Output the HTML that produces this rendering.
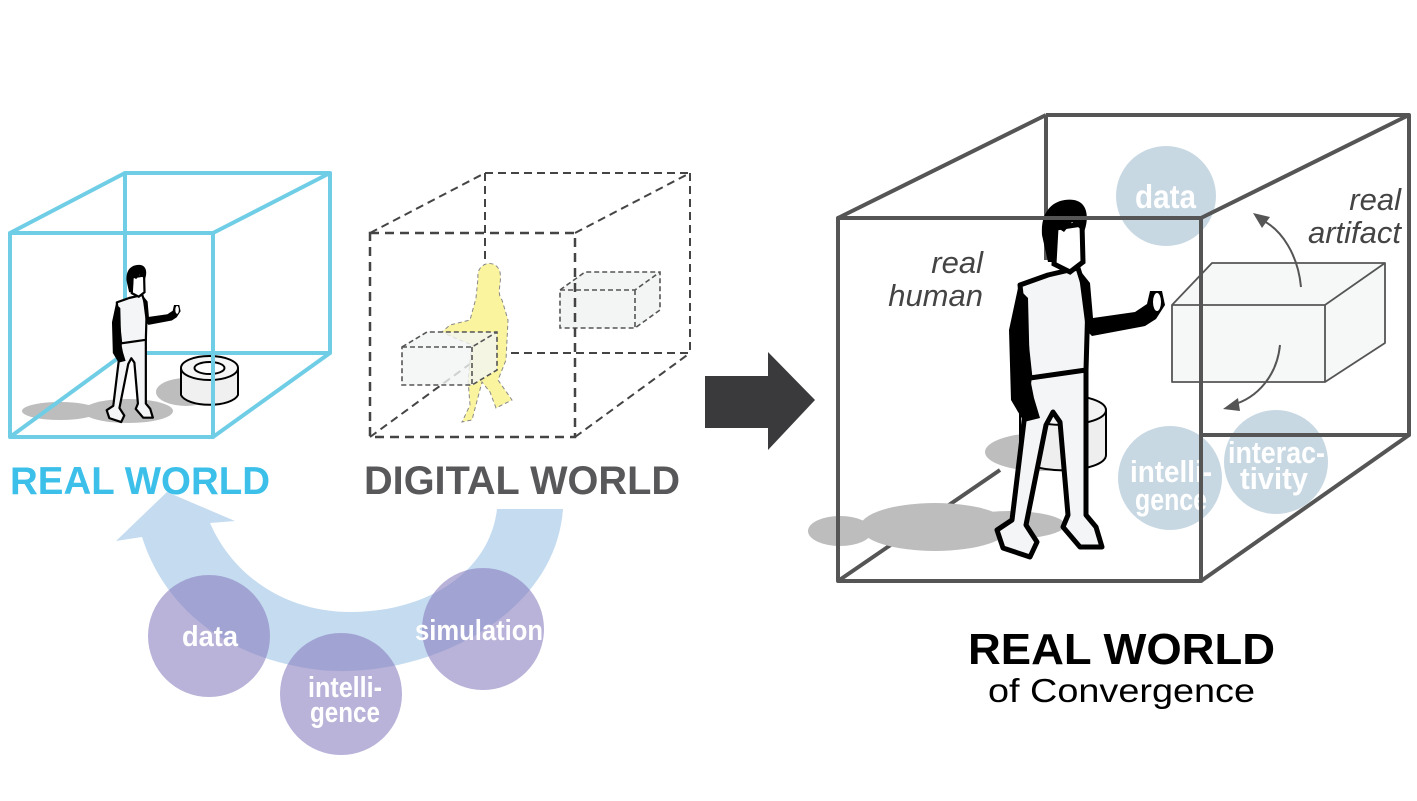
<!DOCTYPE html>
<html><head><meta charset="utf-8"><style>
html,body{margin:0;padding:0;background:#fff;}
svg{display:block;}
.cn{font-family:"Liberation Sans Narrow","Liberation Sans",sans-serif;font-weight:bold;fill:#fff;}
</style></head><body>
<svg width="1417" height="801" viewBox="0 0 1417 801" xmlns="http://www.w3.org/2000/svg">
<defs>
<g id="person">
  <path d="M1030,372 L1012,520 L997,530 L1003,548 L1030,557 L1037,542 L1026,525 L1046,425 L1053,412 L1060,422 L1068,515 L1063,527 L1080,547 L1102,547 L1096,527 L1086,515 L1086,368 Z" fill="#f4f5f7" stroke="#000" stroke-width="5" stroke-linejoin="round"/>
  <path d="M1020,285 L1048,275 L1078,268 L1088,300 L1086,370 L1030,378 Z" fill="#f4f5f7" stroke="#000" stroke-width="5" stroke-linejoin="round"/>
  <path d="M1018,288 L1009,330 L1011,400 L1024,422 L1040,418 L1034,398 L1030,378 L1028,298 Z" fill="#000"/>
  <path d="M1078,268 L1090,283 L1093,318 L1135,312 L1147,304 L1150,291 L1162,291 L1165,305 L1156,319 L1145,326 L1092,336 L1086,330 Z" fill="#000"/>
  <ellipse cx="1157" cy="302" rx="4" ry="9" fill="#fff"/>
  <path d="M1056,228 L1082,224 L1083,262 L1070,272 L1054,264 Z" fill="#fff" stroke="#000" stroke-width="5"/>
  <path d="M1042,235 C1040,205 1060,198 1074,200 C1090,203 1088,222 1084,232 L1072,222 L1064,232 L1058,228 L1056,262 L1048,262 Z" fill="#000"/>
</g>
</defs>

<!-- LEFT CUBE -->
<ellipse cx="60" cy="411" rx="38" ry="9" fill="#bdbdbd"/>
<ellipse cx="128" cy="411" rx="45" ry="12" fill="#bdbdbd"/>
<ellipse cx="186" cy="392" rx="30" ry="14" fill="#bdbdbd"/>
<g fill="none" stroke="#6fcde6" stroke-width="4" stroke-linejoin="round">
<path d="M125,173 L330,173 L330,353 L125,353 Z"/>
<path d="M10,233 L125,173 M213,233 L330,173 M213,437 L330,353 M10,437 L125,353"/>
</g>
<path d="M181,368 L181,395 A29,12 0 0 0 238,395 L238,368" fill="#f0f0f0" stroke="#000" stroke-width="2"/>
<ellipse cx="209.5" cy="368" rx="28.5" ry="12" fill="#f5f5f5" stroke="#000" stroke-width="2"/>
<ellipse cx="209.5" cy="368" rx="15" ry="6" fill="#fff" stroke="#000" stroke-width="2"/>
<use href="#person" transform="translate(-332,177) scale(0.44)"/>
<g fill="none" stroke="#6fcde6" stroke-width="4" stroke-linejoin="round">
<path d="M10,233 L213,233 L213,437 L10,437 Z"/>
</g>

<!-- DIGITAL CUBE -->
<g fill="none" stroke="#444" stroke-width="2" stroke-dasharray="8,5">
<path d="M485,173 L690,173 M485,173 L485,353 M485,353 L690,353 M690,173 L690,353"/>
<path d="M370,233 L485,173 M575,233 L690,173 M575,437 L690,353 M370,437 L485,353"/>
</g>
<path d="M560,290 L585,272 L660,272 L660,310 L635,328 L560,328 Z" fill="#f3f5f4" stroke="#555" stroke-width="1.6" stroke-dasharray="5,3"/>
<path d="M560,290 L635,290 L660,272 M635,290 L635,328" fill="none" stroke="#555" stroke-width="1.6" stroke-dasharray="5,3"/>
<path d="M478,278 C476,262 496,258 500,272 C502,285 496,292 502,300 L508,320 L506,360 L498,380 L512,400 L496,408 L490,392 L482,382 L472,420 L462,422 L470,405 L468,380 L472,345 L455,338 L442,332 L450,325 L470,320 L476,298 Z" fill="#fbf49f" stroke="#888" stroke-width="1" stroke-dasharray="4,3"/>
<path d="M402,347 L427,332 L497,332 L497,370 L472,385 L402,385 Z" fill="#f3f5f4" fill-opacity="0.8" stroke="#555" stroke-width="1.6" stroke-dasharray="5,3"/>
<path d="M402,347 L472,347 L497,332 M472,347 L472,385" fill="none" stroke="#555" stroke-width="1.6" stroke-dasharray="5,3"/>
<g fill="none" stroke="#444" stroke-width="2.5" stroke-dasharray="9,6">
<path d="M370,233 L575,233 L575,437 L370,437 Z"/>
</g>

<text x="10" y="494" font-family="Liberation Sans,sans-serif" font-weight="bold" font-size="39" fill="#3cc0ea" textLength="260" lengthAdjust="spacingAndGlyphs">REAL WORLD</text>
<text x="364" y="494" font-family="Liberation Sans,sans-serif" font-weight="bold" font-size="40" fill="#58585a" textLength="316" lengthAdjust="spacingAndGlyphs">DIGITAL WORLD</text>

<!-- BIG ARROW -->
<path d="M705,376 L768,376 L768,352 L815,400 L768,450 L768,428 L705,428 Z" fill="#3a3a3c"/>

<!-- CURVED BLUE ARROW -->
<path d="M563,509 C555,620 420,680 320,670 C230,660 165,610 142,537 L116,541 L167,492 L235,521 L210,523 C235,580 290,612 350,612 C430,612 490,570 497,509 Z" fill="#c4dbf0"/>
<g fill="#8a7fc0" fill-opacity="0.6">
<circle cx="209" cy="636" r="61"/>
<circle cx="341" cy="694" r="61"/>
<circle cx="483" cy="629" r="61"/>
</g>
<text class="cn" x="182" y="646" font-size="29" textLength="56" lengthAdjust="spacingAndGlyphs">data</text>
<text class="cn" x="308" y="697" font-size="29" textLength="74" lengthAdjust="spacingAndGlyphs">intelli-</text>
<text class="cn" x="310" y="722" font-size="29" textLength="70" lengthAdjust="spacingAndGlyphs">gence</text>
<text class="cn" x="415" y="640" font-size="29" textLength="128" lengthAdjust="spacingAndGlyphs">simulation</text>

<!-- RIGHT CUBE -->
<ellipse cx="1166" cy="196" rx="50" ry="50" fill="#c8d8e3"/>
<ellipse cx="1170" cy="478" rx="52" ry="52" fill="#c8d8e3"/>
<ellipse cx="1276" cy="462" rx="52" ry="52" fill="#c8d8e3"/>
<text class="cn" x="1135" y="208" font-size="33" textLength="61" lengthAdjust="spacingAndGlyphs">data</text>
<text class="cn" x="1130" y="482" font-size="31" textLength="82" lengthAdjust="spacingAndGlyphs">intelli-</text>
<text class="cn" x="1135" y="510" font-size="31" textLength="72" lengthAdjust="spacingAndGlyphs">gence</text>
<text class="cn" x="1228" y="463" font-size="31" textLength="97" lengthAdjust="spacingAndGlyphs">interac-</text>
<text class="cn" x="1240" y="489" font-size="31" textLength="68" lengthAdjust="spacingAndGlyphs">tivity</text>

<g fill="none" stroke="#555" stroke-width="4" stroke-linejoin="round">
<path d="M1046,115 L1409,115 L1409,435 L1200,435"/>
<path d="M1046,115 L1046,260"/>
<path d="M838,218 L1046,115 M1201,218 L1409,115 M1201,581 L1409,435 M838,581 L1000,470"/>
</g>
<!-- shadows -->
<ellipse cx="840" cy="531" rx="32" ry="15" fill="#bdbdbd"/>
<ellipse cx="935" cy="527" rx="75" ry="24" fill="#bdbdbd"/>
<ellipse cx="1010" cy="525" rx="55" ry="14" fill="#bdbdbd"/>
<ellipse cx="1040" cy="452" rx="55" ry="19" fill="#bdbdbd"/>
<!-- cylinder -->
<path d="M1020,410 L1020,455 A42,15 0 0 0 1106,455 L1106,410" fill="#eee" stroke="#000" stroke-width="2"/>
<ellipse cx="1063" cy="410" rx="43" ry="15" fill="#f3f3f3" stroke="#000" stroke-width="2"/>
<use href="#person"/>
<!-- artifact box -->
<path d="M1172,305 L1212,263 L1385,263 L1385,343 L1325,382 L1172,382 Z" fill="#f5f7f6" fill-opacity="0.92" stroke="#555" stroke-width="1.8" stroke-linejoin="round"/>
<path d="M1172,305 L1325,305 L1385,263 M1325,305 L1325,382" fill="none" stroke="#555" stroke-width="1.8"/>
<path d="M1301,287 C1298,255 1282,230 1262,220" fill="none" stroke="#555" stroke-width="2"/>
<path d="M1253,213 L1270,217 L1262,228 Z" fill="#555"/>
<path d="M1280,345 C1277,375 1258,398 1232,405" fill="none" stroke="#555" stroke-width="2"/>
<path d="M1223,409 L1238,398 L1240,411 Z" fill="#555"/>
<g fill="none" stroke="#555" stroke-width="4" stroke-linejoin="round">
<path d="M838,218 L1201,218 L1201,581 L838,581 Z"/>
</g>

<text x="983" y="273" font-family="Liberation Sans,sans-serif" font-style="italic" font-size="31" fill="#444" text-anchor="end">real</text>
<text x="983" y="306" font-family="Liberation Sans,sans-serif" font-style="italic" font-size="31" fill="#444" text-anchor="end">human</text>
<text x="1401" y="210" font-family="Liberation Sans,sans-serif" font-style="italic" font-size="31" fill="#444" text-anchor="end">real</text>
<text x="1401" y="243" font-family="Liberation Sans,sans-serif" font-style="italic" font-size="31" fill="#444" text-anchor="end">artifact</text>

<text x="968" y="664" font-family="Liberation Sans,sans-serif" font-weight="bold" font-size="44" fill="#000" textLength="307" lengthAdjust="spacingAndGlyphs">REAL WORLD</text>
<text x="988" y="702" font-family="Liberation Sans,sans-serif" font-size="33" fill="#000" textLength="267" lengthAdjust="spacingAndGlyphs">of Convergence</text>
</svg>
</body></html>
